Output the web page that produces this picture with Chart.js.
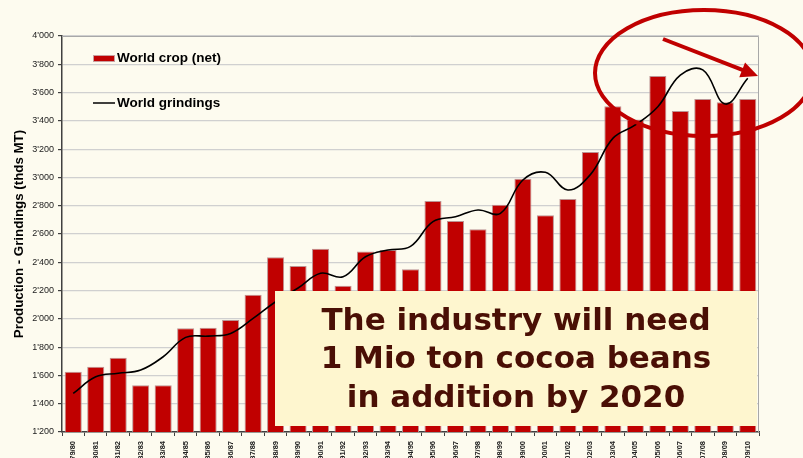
<!DOCTYPE html>
<html>
<head>
<meta charset="utf-8">
<script src="https://cdn.jsdelivr.net/npm/chart.js@4.4.1/dist/chart.umd.min.js"></script>
<style>
  html, body { margin: 0; padding: 0; background: #FDFBEF; overflow: hidden; }
  #wrap { width: 803px; height: 468px; }
</style>
</head>
<body>
<div id="wrap"><canvas id="chart" width="803" height="468"></canvas></div>
<script>
// ── Data ──
const seasons = ['79/80', '80/81', '81/82', '82/83', '83/84', '84/85', '85/86', '86/87', '87/88', '88/89',
  '89/90', '90/91', '91/92', '92/93', '93/94', '94/95', '95/96', '96/97', '97/98', '98/99',
  '99/00', '00/01', '01/02', '02/03', '03/04', '04/05', '05/06', '06/07', '07/08', '08/09', '09/10'];

const worldCrop = [1626, 1661, 1725, 1530, 1530, 1933, 1938, 1992, 2171, 2435,
  2373, 2496, 2234, 2477, 2487, 2350, 2833, 2692, 2633, 2807,
  2991, 2732, 2847, 3180, 3503, 3410, 3717, 3470, 3555, 3531, 3555];

const worldGrindings = [1473, 1590, 1615, 1638, 1732, 1869, 1878, 1897, 2003, 2121,
  2218, 2322, 2298, 2439, 2487, 2512, 2687, 2722, 2770, 2746,
  2982, 3036, 2911, 3020, 3276, 3371, 3500, 3724, 3760, 3519, 3701];

const yMin = 1200;
const yMax = 4000;
const yStep = 200;

const legendLabels = ['World crop (net)', 'World grindings'];
const calloutLines = ['The industry will need', '1 Mio ton cocoa beans', 'in addition by 2020'];

const RED = '#C00000';

const fmt = v => {
  const s = String(v);
  return s.length > 3 ? s.slice(0, -3) + "'" + s.slice(-3) : s;
};

// ── Plot frame (top/right border) ──
const framePlugin = {
  id: 'frame',
  beforeDatasetsDraw(chart) {
    const { ctx, chartArea: a } = chart;
    ctx.save();
    ctx.strokeStyle = '#A8A8A8';
    ctx.lineWidth = 1;
    ctx.beginPath();
    ctx.moveTo(a.left, a.top + 0.5);
    ctx.lineTo(a.right - 0.5, a.top + 0.5);
    ctx.lineTo(a.right - 0.5, a.bottom);
    ctx.stroke();
    ctx.restore();
  }
};

// ── Legend inside the plot, callout box, ellipse + arrow ──
const overlayPlugin = {
  id: 'overlay',
  afterDatasetsDraw(chart) {
    const { ctx, chartArea: a } = chart;
    ctx.save();

    // legend
    const lx = a.left + 31;
    ctx.font = 'bold 13.5px "Liberation Sans", Arial, sans-serif';
    ctx.textBaseline = 'middle';
    ctx.fillStyle = RED;
    ctx.fillRect(lx, a.top + 19, 22, 7);
    ctx.strokeStyle = '#C8A0A0';
    ctx.lineWidth = 1;
    ctx.strokeRect(lx + 0.5, a.top + 19.5, 21, 6);
    ctx.fillStyle = '#000';
    ctx.fillText(legendLabels[0], lx + 24, a.top + 22);
    ctx.strokeStyle = '#000';
    ctx.lineWidth = 1.5;
    ctx.beginPath();
    ctx.moveTo(lx, a.top + 67);
    ctx.lineTo(lx + 22, a.top + 67);
    ctx.stroke();
    ctx.fillText(legendLabels[1], lx + 24, a.top + 67);

    // callout box
    const bx = 275, by = 291, bw = 482, bh = 135;
    ctx.fillStyle = '#FEF6CF';
    ctx.fillRect(bx, by, bw, bh);
    ctx.fillStyle = '#4A0F05';
    ctx.font = 'bold 31px "DejaVu Sans", Verdana, sans-serif';
    ctx.textAlign = 'center';
    calloutLines.forEach((t, i) => ctx.fillText(t, bx + bw / 2, by + 31 + i * 38.3));

    // ellipse
    ctx.strokeStyle = RED;
    ctx.lineWidth = 4;
    ctx.beginPath();
    ctx.ellipse(704, 73, 109, 63, 0, 0, Math.PI * 2);
    ctx.stroke();

    // arrow
    const x0 = 663, y0 = 39, x1 = 758, y1 = 76;
    const ang = Math.atan2(y1 - y0, x1 - x0);
    ctx.lineWidth = 4;
    ctx.beginPath();
    ctx.moveTo(x0, y0);
    ctx.lineTo(x1 - 12 * Math.cos(ang), y1 - 12 * Math.sin(ang));
    ctx.stroke();
    ctx.fillStyle = RED;
    ctx.beginPath();
    ctx.moveTo(x1, y1);
    ctx.lineTo(x1 - 17 * Math.cos(ang) + 8 * Math.sin(ang), y1 - 17 * Math.sin(ang) - 8 * Math.cos(ang));
    ctx.lineTo(x1 - 17 * Math.cos(ang) - 8 * Math.sin(ang), y1 - 17 * Math.sin(ang) + 8 * Math.cos(ang));
    ctx.closePath();
    ctx.fill();

    ctx.restore();
  }
};

const ctx = document.getElementById('chart').getContext('2d');

new Chart(ctx, {
  data: {
    labels: seasons,
    datasets: [
      {
        type: 'line',
        label: legendLabels[1],
        data: worldGrindings,
        borderColor: '#000',
        borderWidth: 1.6,
        pointRadius: 0,
        tension: 0.4,
        fill: false,
        order: 0
      },
      {
        type: 'bar',
        label: legendLabels[0],
        data: worldCrop,
        backgroundColor: RED,
        borderColor: '#BC9494',
        borderWidth: 1,
        categoryPercentage: 1,
        barPercentage: 0.76,
        order: 1
      }
    ]
  },
  options: {
    responsive: false,
    animation: false,
    layout: { padding: { top: 36, right: 44, left: 0, bottom: 0 } },
    plugins: {
      legend: { display: false },
      tooltip: { enabled: false }
    },
    scales: {
      x: {
        grid: {
          display: true,
          offset: true,
          drawOnChartArea: false,
          drawTicks: true,
          tickLength: 4,
          tickColor: '#404040'
        },
        border: { display: true, color: '#404040', width: 1.5 },
        ticks: {
          autoSkip: false,
          minRotation: 90,
          maxRotation: 90,
          padding: 5,
          color: '#222',
          font: { family: '"Liberation Sans", Arial, sans-serif', size: 7.5, weight: 'bold' }
        },
        afterFit(scale) { scale.height = 36; }
      },
      y: {
        min: yMin,
        max: yMax,
        grid: {
          color: '#D0D0D0',
          lineWidth: 1.2,
          tickLength: 4,
          tickColor: '#404040'
        },
        border: { display: true, color: '#404040', width: 1.5 },
        ticks: {
          stepSize: yStep,
          padding: 4,
          color: '#222',
          font: { family: '"Liberation Sans", Arial, sans-serif', size: 9 },
          callback: v => fmt(v)
        },
        title: {
          display: true,
          text: 'Production - Grindings (thds MT)',
          color: '#000',
          padding: { top: 11.5, bottom: 0 },
          font: { family: '"Liberation Sans", Arial, sans-serif', size: 13.3, weight: 'bold' }
        },
        afterFit(scale) { scale.width = 62; }
      }
    }
  },
  plugins: [framePlugin, overlayPlugin]
});
</script>
</body>
</html>
